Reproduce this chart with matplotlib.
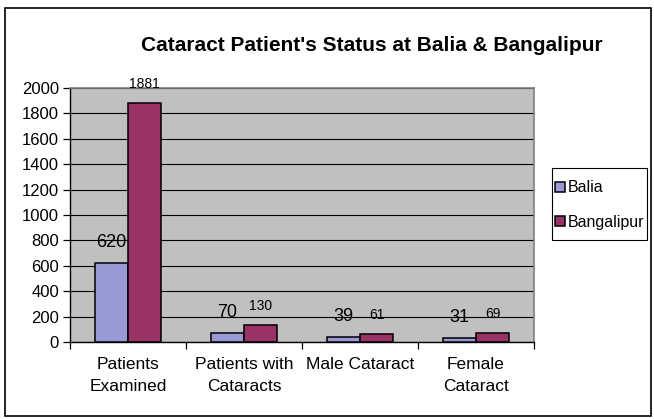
import matplotlib.pyplot as plt
import matplotlib.patches as mpatches
import numpy as np

categories = ["Patients\nExamined", "Patients with\nCataracts", "Male Cataract", "Female\nCataract"]
balia = [620, 70, 39, 31]
bangalipur = [1881, 130, 61, 69]
yticks = list(range(0, 2001, 200))

plt.rcParams.update({"font.family": ["Liberation Sans", "DejaVu Sans"], "font.size": 12})

W, H = 654, 419
fig = plt.figure(figsize=(W / 100, H / 100), dpi=100)

# outer chart border
fig.patches.append(mpatches.Rectangle((5 / W, 1 - 416 / H), 646 / W, 408 / H,
                                      transform=fig.transFigure, fill=False,
                                      edgecolor="black", linewidth=1.2))

ax = fig.add_axes([70 / W, 1 - 342 / H, 464 / W, 254 / H])
ax.set_facecolor("#C0C0C0")

x = np.arange(len(categories))
w = 1 / 3.5
b1 = ax.bar(x - w / 2, balia, w, color="#9999D6", edgecolor="black", linewidth=1.1, label="Balia", zorder=3)
b2 = ax.bar(x + w / 2, bangalipur, w, color="#993366", edgecolor="black", linewidth=1.1, label="Bangalipur", zorder=3)

for rect, v in zip(b1, balia):
    ax.annotate(str(v), (rect.get_x() + rect.get_width() / 2, v), xytext=(0, 15),
                textcoords="offset points", ha="center", va="center", fontsize=13, zorder=4)
for rect, v in zip(b2, bangalipur):
    ax.annotate(str(v), (rect.get_x() + rect.get_width() / 2, v), xytext=(0, 14),
                textcoords="offset points", ha="center", va="center", fontsize=10, zorder=4)

ax.set_xlim(-0.5, len(categories) - 0.5)
ax.set_ylim(0, 2000)
ax.set_yticks(yticks)
ax.yaxis.grid(True, color="black", linewidth=0.8, zorder=1)
ax.set_axisbelow(True)

ax.set_xticks(np.arange(len(categories) + 1) - 0.5)
ax.set_xticklabels([])
ax.set_xticks(x, minor=True)
ax.set_xticklabels(categories, minor=True, linespacing=1.55, fontsize=12.5)
ax.tick_params(axis="x", which="major", direction="out", length=5, width=0.9)
ax.tick_params(axis="x", which="minor", length=0, pad=11)
ax.tick_params(axis="y", direction="out", length=5, width=0.9, pad=3)

for s in ("top", "right"):
    ax.spines[s].set_color("#808080")
    ax.spines[s].set_linewidth(1.2)
for s in ("left", "bottom"):
    ax.spines[s].set_color("black")
    ax.spines[s].set_linewidth(1.0)

fig.text(372 / W, 1 - 51 / H, "Cataract Patient's Status at Balia & Bangalipur",
         ha="center", va="baseline", fontsize=15, fontweight="bold")

# legend box drawn separately so its size can match the reference
fig.patches.append(mpatches.Rectangle((552 / W, 1 - 240 / H), 95 / W, 72 / H,
                                      transform=fig.transFigure, fill=False,
                                      edgecolor="black", linewidth=0.8))
leg = fig.legend(handles=[b1, b2], loc="center left", bbox_to_anchor=(555 / W, 1 - 205 / H),
                 bbox_transform=fig.transFigure, frameon=False,
                 handlelength=0.6, handleheight=0.6, handletextpad=0.2,
                 borderpad=0, labelspacing=1.2, borderaxespad=0, fontsize=11.5)

fig.savefig("out.png", dpi=100)
